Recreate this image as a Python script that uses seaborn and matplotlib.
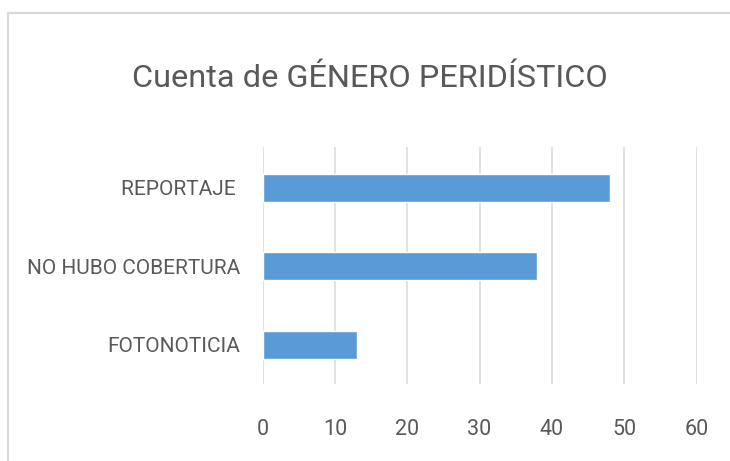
"""
Cuenta de GÉNERO PERIDÍSTICO - horizontal bar chart (Excel style)
"""

import matplotlib
matplotlib.use("Agg")
import matplotlib.pyplot as plt
from matplotlib.lines import Line2D
import pandas as pd
import seaborn as sns

# --- data ---
categories = ["REPORTAJE ", "NO HUBO COBERTURA", "FOTONOTICIA"]
counts = [48, 38, 13]
x_ticks = [0, 10, 20, 30, 40, 50, 60]
title = "Cuenta de GÉNERO PERIDÍSTICO"

df = pd.DataFrame({"genero": categories, "cuenta": counts})

sns.set_theme(style="white")
plt.rcParams["font.family"] = ["Roboto", "DejaVu Sans"]

text_gray = "#595959"
grid_gray = "#d9d9d9"
bar_blue = "#5b9bd5"

W, H = 730, 461
fig = plt.figure(figsize=(W / 100, H / 100), dpi=100)
ax = fig.add_axes([262.5 / W, 1 - 384 / H, 434 / W, (384 - 147) / H])

sns.barplot(data=df, x="cuenta", y="genero", orient="h", color=bar_blue,
            width=0.353, saturation=1, ax=ax)

ax.set_xlim(0, 60)
ax.set_ylim(2.5, -0.52)
ax.set_xticks(x_ticks)
ax.set_xticklabels([str(t) for t in x_ticks])
ax.set_xlabel("")
ax.set_ylabel("")

ax.xaxis.grid(True, color=grid_gray, linewidth=1.1)
ax.yaxis.grid(False)
ax.set_axisbelow(True)
for side in ["top", "right", "bottom", "left"]:
    ax.spines[side].set_visible(False)

ax.tick_params(axis="x", length=0, pad=25, labelsize=15.5, labelcolor=text_gray)
ax.tick_params(axis="y", length=0, pad=16, labelsize=15, labelcolor=text_gray)

# title
fig.text(370 / W, 1 - 87.3 / H, title, ha="center", va="baseline",
         fontsize=23.4, color=text_gray)

# chart area border (top and left visible)
fig.add_artist(Line2D([7.5 / W, 7.5 / W, 1.0], [0.0, 1 - 13.5 / H, 1 - 13.5 / H],
                      transform=fig.transFigure, color=grid_gray, linewidth=1.6))

fig.savefig("out.png", dpi=100)
plt.close(fig)
